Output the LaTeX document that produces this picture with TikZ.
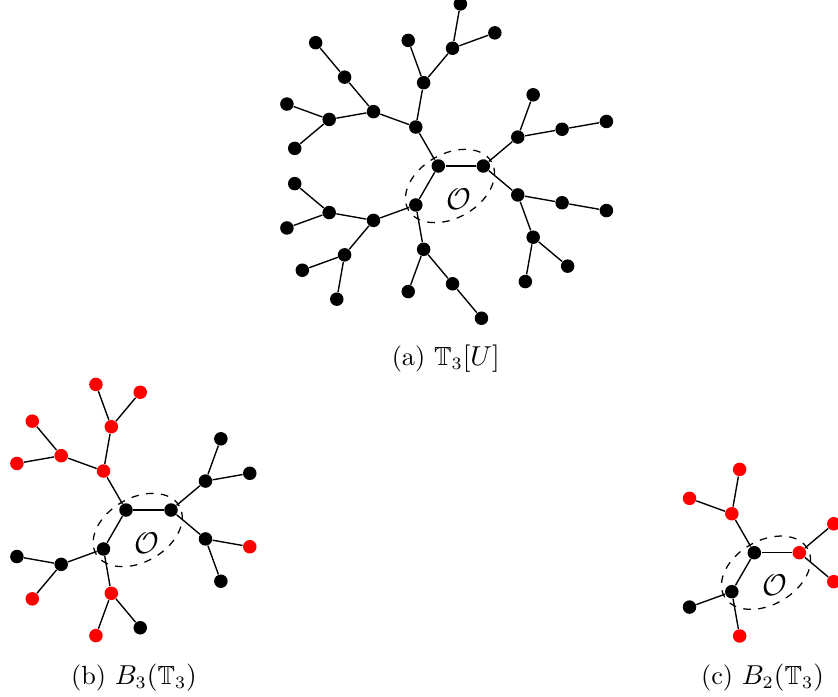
\documentclass[tikz,border=0pt]{standalone}
\usepackage{amssymb}
\usetikzlibrary{calc}
\newcommand\growtree[2]{%
  \foreach \n/\p/\ang/\st in {#2} {
    \node[\st] (#1\n) at ($(#1\p)+(\ang:45)$) {};
    \draw[edgeline] (#1\p) -- (#1\n);
  }%
}
\begin{document}
\begin{tikzpicture}[x=0.4pt,y=0.4pt,
  bdot/.style={circle,fill=black,inner sep=0pt,minimum size=5.4pt},
  rdot/.style={circle,fill=red,inner sep=0pt,minimum size=5.4pt},
  edgeline/.style={line width=0.55pt},
  ring/.style={dashed,line width=0.5pt},
  olabel/.style={font=\fontsize{11.5}{13}\selectfont},
  captext/.style={inner sep=0pt,font=\fontsize{10.5}{12.6}\selectfont}]
\useasboundingbox (0,0) rectangle (838,696);

% ---------- (a) T_3[U] ----------
\node[bdot] (aA) at (438.3,530) {};
\coordinate (aO) at ($(aA)+(11.7,-20)$);
\draw[ring, rotate around={30:(aO)}] (aO) ellipse [x radius=48, y radius=32];
\node[olabel] (aL) at ($(aA)+(20.5,-33)$) {$\mathcal{O}$};
\growtree{a}{B/A/0/bdot, A1/A/120/bdot, C/A/240/bdot,
  B1/B/40/bdot, B2/B/-40/bdot, A11/A1/80/bdot, A12/A1/160/bdot, C1/C/200/bdot, C2/C/280/bdot,
  A11a/A11/110/bdot, A11b/A11/50/bdot, A12a/A12/130/bdot, A12b/A12/190/bdot,
  B1a/B1/70/bdot, B1b/B1/10/bdot, B2a/B2/-10/bdot, B2b/B2/-70/bdot,
  C1a/C1/170/bdot, C1b/C1/230/bdot, C2a/C2/250/bdot, C2b/C2/310/bdot,
  A11b1/A11b/80/bdot, A11b2/A11b/20/bdot, A12a1/A12a/130/bdot,
  A12b1/A12b/160/bdot, A12b2/A12b/220/bdot, B1b1/B1b/10/bdot, B2a1/B2a/-10/bdot,
  B2b1/B2b/-100/bdot, B2b2/B2b/-40/bdot, C1a1/C1a/140/bdot, C1a2/C1a/200/bdot,
  C1b1/C1b/200/bdot, C1b2/C1b/260/bdot, C2b1/C2b/310/bdot}
\node[captext] (capa) at (445.7,337) {(a) $\mathbb{T}_3[U]$};

% ---------- (b) B_3(T_3) ----------
\node[bdot] (bA) at (126,186) {};
\coordinate (bO) at ($(bA)+(11.7,-20)$);
\draw[ring, rotate around={30:(bO)}] (bO) ellipse [x radius=48, y radius=32];
\node[olabel] (bL) at ($(bA)+(20.5,-33)$) {$\mathcal{O}$};
\growtree{b}{B/A/0/bdot, A1/A/120/rdot, C/A/240/bdot,
  B1/B/40/bdot, B2/B/-40/bdot, A11/A1/80/rdot, A12/A1/160/rdot, C1/C/200/bdot, C2/C/280/rdot,
  A11a/A11/110/rdot, A11b/A11/50/rdot, A12a/A12/130/rdot, A12b/A12/190/rdot,
  B1a/B1/70/bdot, B1b/B1/10/bdot, B2a/B2/-10/rdot, B2b/B2/-70/bdot,
  C1a/C1/170/bdot, C1b/C1/230/rdot, C2a/C2/250/rdot, C2b/C2/310/bdot}
\node[captext] (capb) at (134,18) {(b) $B_3(\mathbb{T}_3)$};

% ---------- (c) B_2(T_3) ----------
\node[bdot] (cA) at (754.3,143.3) {};
\coordinate (cO) at ($(cA)+(11.7,-20)$);
\draw[ring, rotate around={30:(cO)}] (cO) ellipse [x radius=48, y radius=32];
\node[olabel] (cL) at ($(cA)+(20.5,-33)$) {$\mathcal{O}$};
\growtree{c}{B/A/0/rdot, A1/A/120/rdot, C/A/240/bdot,
  B1/B/40/rdot, B2/B/-40/rdot, A11/A1/80/rdot, A12/A1/160/rdot, C1/C/200/bdot, C2/C/280/rdot}
\node[captext] (capc) at (762.5,18) {(c) $B_2(\mathbb{T}_3)$};
\end{tikzpicture}
\end{document}
